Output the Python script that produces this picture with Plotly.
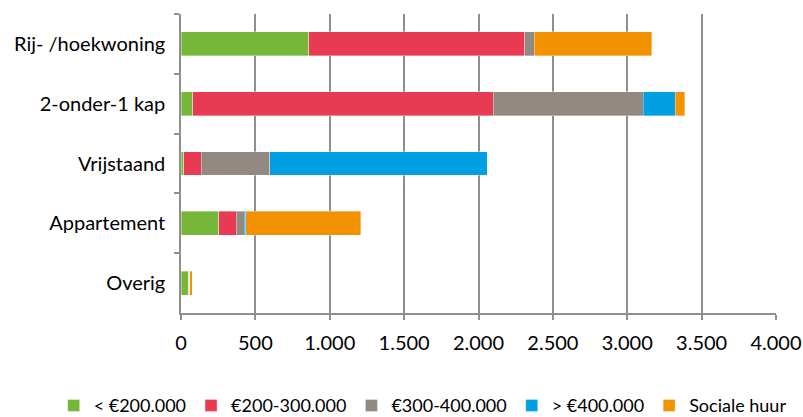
import plotly.graph_objects as go

categories = ["Rij- /hoekwoning", "2-onder-1 kap", "Vrijstaand", "Appartement", "Overig"]
series_names = ["< €200.000", "€200-300.000", "€300-400.000", "> €400.000", "Sociale huur"]
lt200 = [858, 78, 20, 255, 52]
r200_300 = [1454, 2021, 117, 117, 0]
r300_400 = [63, 1008, 461, 54, 6]
gt400 = [0, 215, 1461, 9, 0]
sociale_huur = [788, 63, 0, 773, 17]
x_tickvals = [0, 500, 1000, 1500, 2000, 2500, 3000, 3500, 4000]
x_ticktext = ["0", "500", "1.000", "1.500", "2.000", "2.500", "3.000", "3.500", "4.000"]

colors = ["#76B739", "#E83A52", "#918982", "#00A0E3", "#F39200"]
series = [lt200, r200_300, r300_400, gt400, sociale_huur]

fig = go.Figure()
for name, vals, col in zip(series_names, series, colors):
    fig.add_trace(go.Bar(
        y=categories, x=vals, name=name, orientation="h",
        marker=dict(color=col, line=dict(color="rgba(255,255,255,0.6)", width=0.6)),
    ))

font_family = "Lato, Open Sans, sans-serif"
fig.update_layout(
    barmode="stack",
    bargap=0.6,
    width=803, height=417,
    margin=dict(l=181, r=27, t=14, b=104, autoexpand=False),
    paper_bgcolor="white", plot_bgcolor="white",
    font=dict(family=font_family, size=20, color="black"),
    legend=dict(orientation="h", xref="paper", yref="paper",
                x=-0.214, xanchor="left", y=-0.31, yanchor="middle",
                font=dict(size=18), traceorder="normal", itemwidth=30,
                tracegroupgap=0),
    showlegend=True,
)
fig.update_xaxes(
    range=[0, 4000], tickvals=x_tickvals, ticktext=x_ticktext,
    showgrid=True, gridcolor="#8f8f8f", gridwidth=1.5,
    showline=True, linecolor="#8f8f8f", linewidth=1.5,
    ticks="outside", ticklen=5, tickcolor="#8f8f8f", tickwidth=1.5,
    ticklabelstandoff=6, zeroline=False, automargin=False,
)
fig.update_yaxes(
    categoryorder="array", categoryarray=categories, autorange="reversed",
    showgrid=False, showline=True, linecolor="#8f8f8f", linewidth=1.5,
    ticks="outside", tickson="boundaries", ticklen=5, tickcolor="#8f8f8f", tickwidth=1.5,
    ticklabelstandoff=10, automargin=False,
)

fig.write_html("out.html", config={"displayModeBar": False},
               post_script="document.body.style.margin='0';")
